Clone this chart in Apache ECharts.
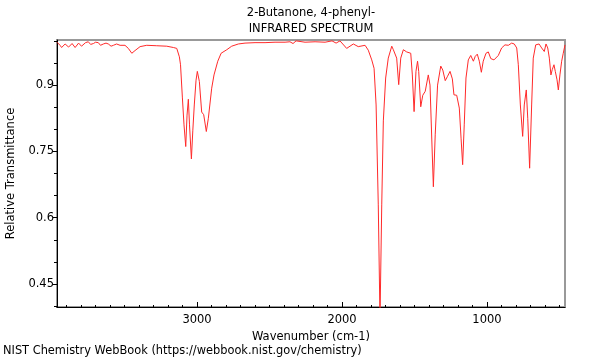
<!DOCTYPE html>
<html>
<head>
<meta charset="utf-8">
<script src="https://cdn.jsdelivr.net/npm/echarts@6/dist/echarts.min.js"></script>
<style>html,body{margin:0;padding:0;background:#fff}#c{width:600px;height:360px}</style>
</head>
<body>
<div id="c"></div>
<script>
var wavenumbers = [3966,3955,3945,3934,3922,3910,3899,3886,3876,3862,3853,3841,3830,3817,3807,3797,3784,3769,3750,3734,3715,3700,3681,3666,3646,3628,3612,3593,3577,3555,3531,3497,3474,3450,3428,3393,3347,3278,3209,3163,3140,3122,3114,3101,3090,3078,3069,3060,3052,3039,3029,3019,3007,2998,2984,2968,2954,2936,2922,2899,2883,2871,2857,2834,2795,2761,2715,2669,2600,2531,2462,2393,2359,2338,2317,2255,2186,2117,2069,2041,2014,1968,1922,1888,1841,1819,1795,1779,1765,1750,1738,1726,1715,1699,1681,1657,1646,1623,1609,1595,1577,1554,1526,1515,1503,1490,1479,1471,1457,1443,1426,1405,1393,1381,1370,1357,1341,1319,1305,1288,1272,1255,1239,1228,1209,1191,1179,1168,1157,1145,1129,1112,1094,1081,1067,1053,1039,1026,1007,991,974,952,922,899,876,853,830,812,795,784,770,754,743,729,719,706,692,681,664,641,623,605,593,581,570,559,550,538,529,517,508,497,485,474,462];
var transmittance = [0.997,1.001,0.990,0.985,0.987,0.993,0.994,0.986,0.983,0.994,0.993,0.985,0.987,0.995,0.993,0.988,0.990,0.996,0.998,0.992,0.994,0.997,0.996,0.990,0.993,0.995,0.993,0.988,0.990,0.993,0.990,0.990,0.983,0.972,0.978,0.987,0.990,0.989,0.988,0.985,0.983,0.964,0.946,0.871,0.810,0.761,0.832,0.868,0.810,0.733,0.798,0.855,0.911,0.931,0.908,0.839,0.833,0.795,0.825,0.893,0.923,0.927,0.954,0.972,0.980,0.988,0.993,0.995,0.996,0.996,0.997,0.997,0.998,0.994,1.000,0.997,0.998,0.997,1.000,0.995,1.000,0.983,0.993,0.987,0.990,0.979,0.957,0.938,0.855,0.629,0.370,0.629,0.819,0.916,0.961,0.988,0.980,0.961,0.901,0.961,0.980,0.975,0.972,0.923,0.840,0.931,0.954,0.931,0.851,0.877,0.886,0.923,0.900,0.778,0.670,0.789,0.900,0.943,0.934,0.910,0.920,0.931,0.914,0.878,0.877,0.848,0.780,0.720,0.810,0.916,0.957,0.967,0.954,0.965,0.970,0.954,0.929,0.954,0.972,0.975,0.960,0.957,0.967,0.984,0.991,0.990,0.995,0.993,0.984,0.946,0.855,0.784,0.855,0.889,0.825,0.712,0.855,0.961,0.991,0.993,0.984,0.976,0.993,0.984,0.961,0.923,0.935,0.946,0.931,0.912,0.889,0.923,0.954,0.972,0.991];
var xMajorTicks = [1000,2000,3000];
var xMinorTicks = [500,600,700,800,900,1000,1100,1200,1300,1400,1500,1600,1700,1800,1900,2000,2100,2200,2300,2400,2500,2600,2700,2800,2900,3000,3100,3200,3300,3400,3500,3600,3700,3800,3900];
var yMajorTicks = [0.45,0.6,0.75,0.9];
var yMinorTicks = [0.4,0.5,0.55,0.65,0.7,0.8,0.85,0.95,1.0];
var xRange = [462,3966];
var yRange = [0.398,1.002];
var titleLines = ['2-Butanone, 4-phenyl-','INFRARED SPECTRUM'];
var footer = 'NIST Chemistry WebBook (https://webbook.nist.gov/chemistry)';

var font = 'DejaVu Sans';
var fs = 11.5;
var pts = wavenumbers.map(function(w,i){return [w, transmittance[i]];});
var chart = echarts.init(document.getElementById('c'), null, {renderer:'canvas'});
chart.setOption({
  animation:false,
  backgroundColor:'#fff',
  grid:{left:57,right:35,top:40,bottom:53,containLabel:false,outerBoundsMode:'none',show:true,borderColor:'#999',borderWidth:2,backgroundColor:'transparent'},
  graphic:[
    {type:'text',x:311,y:7,style:{text:titleLines[0],textAlign:'center',fontSize:fs,fontFamily:font,fill:'#000'}},
    {type:'text',x:311,y:23,style:{text:titleLines[1],textAlign:'center',fontSize:fs,fontFamily:font,fill:'#000'}},
    {type:'text',x:3,y:346,style:{text:footer,textAlign:'left',fontSize:11.4,fontFamily:font,fill:'#000'}}
  ],
  xAxis:[
    {type:'value',inverse:true,min:xRange[0],max:xRange[1],position:'bottom',
     name:'Wavenumber (cm-1)',nameLocation:'middle',nameGap:21,
     nameTextStyle:{fontFamily:font,fontSize:fs,color:'#000'},
     axisLine:{show:true,lineStyle:{color:'#000',width:1}},
     axisTick:{show:true,inside:true,length:5,customValues:xMajorTicks,lineStyle:{color:'#000'}},
     axisLabel:{show:true,customValues:xMajorTicks,margin:7,fontFamily:font,fontSize:fs,color:'#000',
       formatter:function(v){return String(v);}},
     splitLine:{show:false}},
    {type:'value',inverse:true,min:xRange[0],max:xRange[1],position:'bottom',
     axisLine:{show:false},
     axisTick:{show:true,inside:true,length:2,customValues:xMinorTicks,lineStyle:{color:'#000'}},
     axisLabel:{show:false},splitLine:{show:false}}
  ],
  yAxis:[
    {type:'value',min:yRange[0],max:yRange[1],position:'left',
     name:'Relative Transmittance',nameLocation:'middle',nameGap:40,
     nameTextStyle:{fontFamily:font,fontSize:fs,color:'#000'},
     axisLine:{show:true,lineStyle:{color:'#000',width:1}},
     axisTick:{show:true,inside:false,length:4,customValues:yMajorTicks,lineStyle:{color:'#000'}},
     axisLabel:{show:true,customValues:yMajorTicks,margin:3,fontFamily:font,fontSize:fs,color:'#000',
       formatter:function(v){return String(v);}},
     splitLine:{show:false}},
    {type:'value',min:yRange[0],max:yRange[1],position:'left',
     axisLine:{show:false},
     axisTick:{show:true,inside:false,length:3,customValues:yMinorTicks,lineStyle:{color:'#000'}},
     axisLabel:{show:false},splitLine:{show:false}}
  ],
  series:[{type:'line',xAxisIndex:0,yAxisIndex:0,data:pts,showSymbol:false,clip:true,
    lineStyle:{color:'#ff2a2a',width:1},smooth:false}]
});
</script>
</body>
</html>
